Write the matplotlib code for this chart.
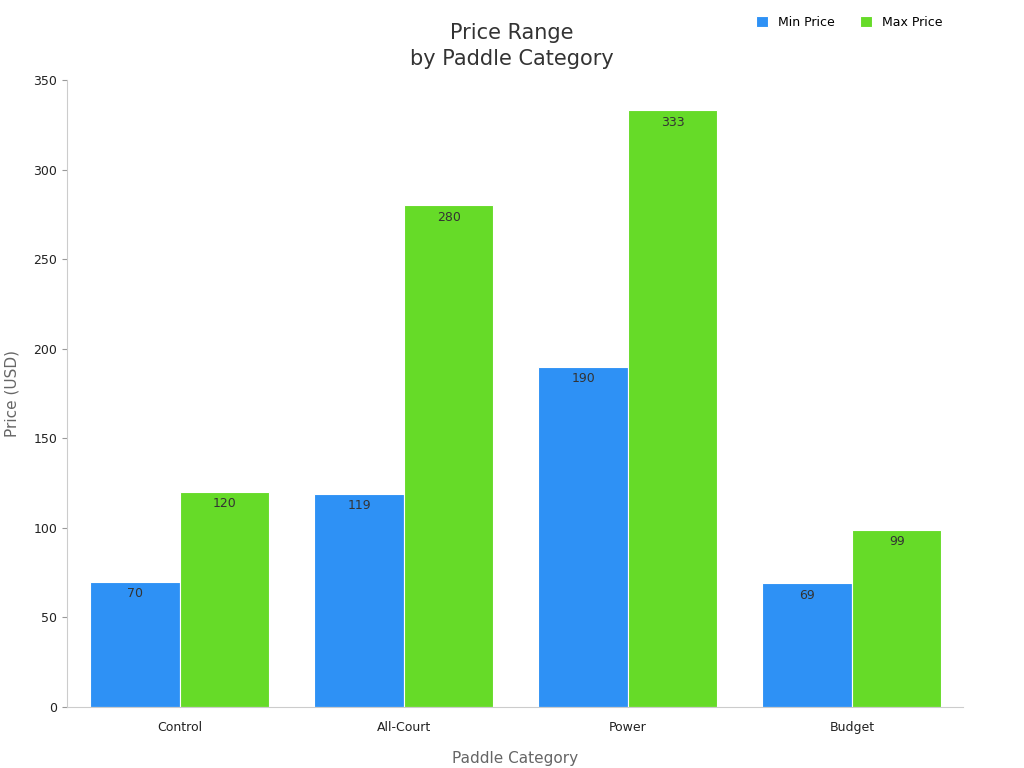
import matplotlib
matplotlib.use("Agg")
import matplotlib.pyplot as plt
import numpy as np

categories = ["Control", "All-Court", "Power", "Budget"]
min_price = [70, 119, 190, 69]
max_price = [120, 280, 333, 99]

fig = plt.figure(figsize=(10.24, 7.68), dpi=100)
ax = fig.add_axes([0.0654, 0.0794, 0.875, 0.8164])
x = np.arange(len(categories))
w = 0.4
b1 = ax.bar(x - w/2, min_price, w, color="#2E91F5", edgecolor="white", linewidth=0.8, label="Min Price")
b2 = ax.bar(x + w/2, max_price, w, color="#66DB28", edgecolor="white", linewidth=0.8, label="Max Price")
for bars, vals in ((b1, min_price), (b2, max_price)):
    for r, v in zip(bars, vals):
        ax.text(r.get_x() + r.get_width()/2, v - 3, str(v), ha="center", va="top", fontsize=9, color="#333333")

ax.set_xlim(-0.504, 3.496)
ax.set_ylim(0, 350)
ax.set_yticks(range(0, 351, 50))
ax.set_xticks(x)
ax.set_xticklabels(categories)
ax.tick_params(labelsize=9, colors="#222222")
ax.tick_params(axis="x", length=0, pad=10)
for s in ("top", "right"):
    ax.spines[s].set_visible(False)
for s in ("left", "bottom"):
    ax.spines[s].set_color("#cccccc")
ax.tick_params(axis="y", color="#999999")
ax.set_xlabel("Paddle Category", fontsize=11, color="#666666", labelpad=12)
ax.set_ylabel("Price (USD)", fontsize=11, color="#666666", labelpad=10)
fig.text(0.5, 0.91, "Price Range\nby Paddle Category", ha="center", va="bottom", fontsize=15, color="#333333", linespacing=1.4)
ax.legend(loc="upper right", bbox_to_anchor=(0.99, 1.12), ncol=2, frameon=False, fontsize=9,
          handlelength=1, handleheight=1, columnspacing=2)
fig.savefig("out.png", dpi=100)
